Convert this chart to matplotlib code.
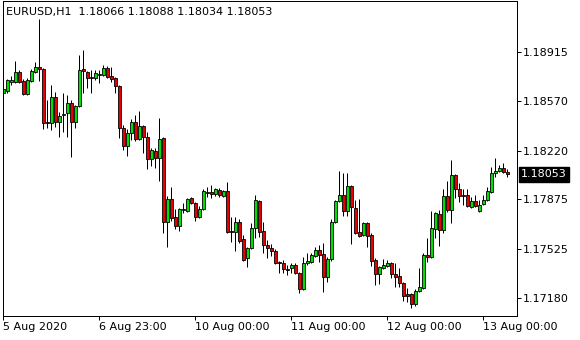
import matplotlib
matplotlib.use("Agg")
import matplotlib.pyplot as plt
import matplotlib.transforms as mtransforms

opens = [1.18626, 1.18641, 1.18704, 1.18704, 1.18775, 1.18711, 1.18619, 1.18711, 1.18775, 1.18810,
         1.18796, 1.18422, 1.18415, 1.18598, 1.18422, 1.18471, 1.18485, 1.18556, 1.18422, 1.18535,
         1.18796, 1.18775, 1.18739, 1.18732, 1.18753, 1.18753, 1.18803, 1.18746, 1.18732, 1.18676,
         1.18379, 1.18252, 1.18344, 1.18422, 1.18302, 1.18393, 1.18316, 1.18160, 1.18217, 1.18168,
         1.18309, 1.17716, 1.17878, 1.17751, 1.17687, 1.17800, 1.17793, 1.17885, 1.17850, 1.17751,
         1.17807, 1.17920, 1.17927, 1.17913, 1.17942, 1.17899, 1.17935, 1.17652, 1.17645, 1.17716,
         1.17596, 1.17462, 1.17532, 1.17673, 1.17864, 1.17652, 1.17553, 1.17532, 1.17511, 1.17433,
         1.17426, 1.17384, 1.17391, 1.17412, 1.17356, 1.17243, 1.17426, 1.17433, 1.17476, 1.17518,
         1.17490, 1.17327, 1.17454, 1.17716, 1.17864, 1.17906, 1.17793, 1.17970, 1.17815, 1.17645,
         1.17624, 1.17709, 1.17624, 1.17447, 1.17349, 1.17391, 1.17405, 1.17426, 1.17349, 1.17334,
         1.17285, 1.17207, 1.17207, 1.17137, 1.17229, 1.17250, 1.17483, 1.17469, 1.17666, 1.17772,
         1.17659, 1.17899, 1.17800, 1.18047, 1.17949, 1.17906, 1.17906, 1.17822, 1.17864, 1.17793,
         1.17843, 1.17871, 1.17927, 1.18062, 1.18076, 1.18097, 1.18066]
highs = [1.18662, 1.18725, 1.18746, 1.18852, 1.18789, 1.18725, 1.18732, 1.18796, 1.18845, 1.19149,
         1.18803, 1.18577, 1.18683, 1.18633, 1.18492, 1.18626, 1.18612, 1.18577, 1.18542, 1.18895,
         1.18930, 1.18782, 1.18789, 1.18789, 1.18789, 1.18824, 1.18817, 1.18810, 1.18739, 1.18683,
         1.18400, 1.18372, 1.18443, 1.18471, 1.18499, 1.18400, 1.18351, 1.18238, 1.18238, 1.18450,
         1.18316, 1.17899, 1.17963, 1.17807, 1.17815, 1.17850, 1.17885, 1.17892, 1.17857, 1.17829,
         1.17949, 1.17963, 1.17977, 1.17956, 1.17956, 1.17942, 1.17998, 1.17751, 1.17751, 1.17737,
         1.17624, 1.17539, 1.17709, 1.17906, 1.17871, 1.17716, 1.17589, 1.17560, 1.17525, 1.17440,
         1.17447, 1.17412, 1.17426, 1.17426, 1.17363, 1.17469, 1.17497, 1.17497, 1.17539, 1.17553,
         1.17567, 1.17469, 1.17737, 1.17871, 1.18076, 1.18062, 1.18062, 1.17977, 1.17871, 1.17878,
         1.17716, 1.17716, 1.17638, 1.17462, 1.17405, 1.17454, 1.17447, 1.17433, 1.17426, 1.17391,
         1.17292, 1.17250, 1.17214, 1.17243, 1.17391, 1.17497, 1.17603, 1.17793, 1.17786, 1.17800,
         1.17949, 1.18005, 1.18153, 1.18055, 1.17991, 1.17949, 1.17949, 1.17892, 1.17906, 1.17871,
         1.17906, 1.17963, 1.18104, 1.18168, 1.18118, 1.18132, 1.18088]
lows = [1.18598, 1.18626, 1.18683, 1.18697, 1.18697, 1.18612, 1.18612, 1.18704, 1.18768, 1.18711,
        1.18372, 1.18379, 1.18365, 1.18386, 1.18316, 1.18351, 1.18316, 1.18175, 1.18379, 1.18528,
        1.18626, 1.18662, 1.18626, 1.18718, 1.18697, 1.18746, 1.18732, 1.18704, 1.18626, 1.18309,
        1.18224, 1.18182, 1.18295, 1.18288, 1.18295, 1.18203, 1.18090, 1.18111, 1.18097, 1.18005,
        1.17638, 1.17539, 1.17723, 1.17666, 1.17652, 1.17779, 1.17786, 1.17843, 1.17723, 1.17744,
        1.17800, 1.17892, 1.17885, 1.17899, 1.17892, 1.17892, 1.17638, 1.17574, 1.17511, 1.17567,
        1.17440, 1.17398, 1.17525, 1.17603, 1.17610, 1.17497, 1.17462, 1.17476, 1.17419, 1.17356,
        1.17356, 1.17341, 1.17356, 1.17349, 1.17214, 1.17236, 1.17412, 1.17426, 1.17469, 1.17433,
        1.17221, 1.17292, 1.17440, 1.17709, 1.17857, 1.17758, 1.17758, 1.17560, 1.17631, 1.17610,
        1.17617, 1.17539, 1.17405, 1.17271, 1.17278, 1.17384, 1.17398, 1.17320, 1.17257, 1.17257,
        1.17158, 1.17151, 1.17109, 1.17123, 1.17221, 1.17243, 1.17433, 1.17462, 1.17603, 1.17546,
        1.17638, 1.17786, 1.17709, 1.17885, 1.17857, 1.17836, 1.17822, 1.17815, 1.17822, 1.17786,
        1.17836, 1.17864, 1.17920, 1.18033, 1.18069, 1.18062, 1.18034]
closes = [1.18655, 1.18718, 1.18718, 1.18775, 1.18704, 1.18619, 1.18718, 1.18782, 1.18810, 1.18796,
          1.18415, 1.18415, 1.18598, 1.18422, 1.18464, 1.18478, 1.18556, 1.18422, 1.18535, 1.18789,
          1.18782, 1.18732, 1.18732, 1.18768, 1.18761, 1.18803, 1.18739, 1.18725, 1.18676, 1.18379,
          1.18252, 1.18344, 1.18422, 1.18302, 1.18393, 1.18316, 1.18160, 1.18224, 1.18168, 1.18302,
          1.17716, 1.17878, 1.17744, 1.17687, 1.17807, 1.17807, 1.17878, 1.17850, 1.17751, 1.17807,
          1.17935, 1.17927, 1.17913, 1.17949, 1.17906, 1.17935, 1.17645, 1.17645, 1.17716, 1.17582,
          1.17447, 1.17532, 1.17673, 1.17871, 1.17645, 1.17553, 1.17532, 1.17511, 1.17426, 1.17426,
          1.17384, 1.17377, 1.17412, 1.17356, 1.17243, 1.17426, 1.17440, 1.17483, 1.17518, 1.17483,
          1.17327, 1.17454, 1.17716, 1.17864, 1.17906, 1.17793, 1.17970, 1.17822, 1.17638, 1.17617,
          1.17709, 1.17617, 1.17440, 1.17349, 1.17398, 1.17412, 1.17426, 1.17349, 1.17327, 1.17285,
          1.17193, 1.17193, 1.17137, 1.17229, 1.17257, 1.17483, 1.17469, 1.17673, 1.17779, 1.17659,
          1.17899, 1.17800, 1.18047, 1.17949, 1.17899, 1.17899, 1.17829, 1.17864, 1.17829, 1.17836,
          1.17871, 1.17935, 1.18062, 1.18076, 1.18097, 1.18069, 1.18053]

price_ticks = [1.18915, 1.18570, 1.18220, 1.17875, 1.17525, 1.17180]
time_tick_bars = [0, 24, 48, 72, 96, 120]
time_tick_labels = ["5 Aug 2020", "6 Aug 23:00", "10 Aug 00:00", "11 Aug 00:00",
                    "12 Aug 00:00", "13 Aug 00:00"]
symbol_title = "EURUSD,H1  1.18066 1.18088 1.18034 1.18053"
last_price = 1.18053

plt.rcParams['font.family'] = ['DejaVu Sans']
W, H = 580, 340
fig = plt.figure(figsize=(W / 100, H / 100), dpi=100)
fig.patch.set_facecolor('white')
ax = fig.add_axes([2.5 / W, (H - 315.5) / H, (516.5 - 2.5) / W, (315.5 - 0.5) / H])
ax.set_facecolor('white')

px = 0.72  # one pixel in points
up_col = '#00e000'
dn_col = '#e80000'
xs = list(range(len(opens)))
ax.vlines(xs, lows, highs, color='black', linewidth=px, zorder=1)
for i in xs:
    o, c = opens[i], closes[i]
    col = up_col if c >= o else dn_col
    bottom = min(o, c)
    height = abs(c - o)
    if height < 0.00004:
        ax.hlines(o, i - 0.4, i + 0.4, color='black', linewidth=px, zorder=2)
    else:
        ax.bar(i, height, bottom=bottom, width=0.72, color=col, edgecolor='black',
               linewidth=0.6, zorder=2)

ax.set_xlim(-0.2, 128.3)
ax.set_ylim(1.19283 - 0.0000706 * 315.5, 1.19283 - 0.0000706 * 0.5)

for s in ax.spines.values():
    s.set_color('black')
    s.set_linewidth(px)

ax.yaxis.tick_right()
ax.set_yticks(price_ticks)
ax.set_yticklabels([f"{p:.5f}" for p in price_ticks])
ax.set_xticks(time_tick_bars)
ax.set_xticklabels(time_tick_labels, ha='left')
ax.tick_params(axis='both', direction='out', length=3, width=px, colors='black',
               labelsize=8, pad=1.5)
ax.tick_params(axis='x', pad=2)

# title text
fig.text(6 / W, 1 - 12.5 / H, symbol_title, fontsize=8, ha='left', va='center', color='black')

# last price label
trans = mtransforms.blended_transform_factory(fig.transFigure, ax.transData)
ax.text(521 / W, last_price, f"{last_price:.5f}", transform=trans, fontsize=8, color='white',
        ha='left', va='center', clip_on=False,
        bbox=dict(boxstyle='square,pad=0.22', facecolor='black', edgecolor='black'))

fig.savefig('out.png', dpi=100, facecolor='white')
